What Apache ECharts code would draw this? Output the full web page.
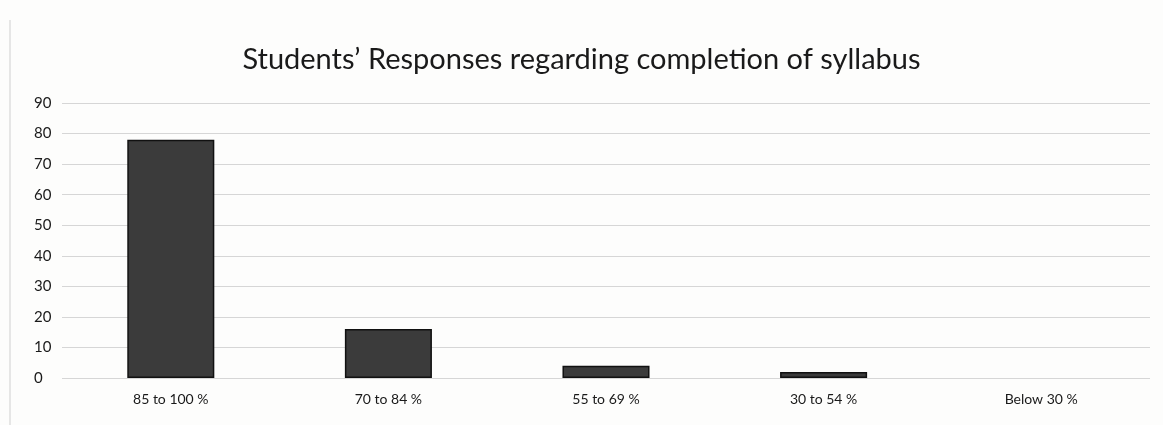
<!DOCTYPE html>
<html><head><meta charset="utf-8">
<script src="https://cdn.jsdelivr.net/npm/echarts@6/dist/echarts.min.js"></script>
<style>html,body{margin:0;padding:0;background:#fff}#c{width:1163px;height:425px}</style>
</head><body><div id="c"></div>
<script>
const categories = ['85 to 100 %', '70 to 84 %', '55 to 69 %', '30 to 54 %', 'Below 30 %'];
const values = [78, 16, 4, 2, 0];
const yTicks = [0, 10, 20, 30, 40, 50, 60, 70, 80, 90];

const chart = echarts.init(document.getElementById('c'));
chart.setOption({
  backgroundColor: '#fdfdfc',
  animation: false,
  title: {
    text: 'Students\u2019 Responses regarding completion of syllabus',
    left: 'center', top: 40,
    textStyle: { fontFamily: 'Lato', fontWeight: 'normal', fontSize: 29, color: '#1a1a1a' }
  },
  graphic: [{ type: 'line', shape: { x1: 10, y1: 20, x2: 10, y2: 425 }, style: { stroke: '#cfcfcf', lineWidth: 1 } }],
  grid: { left: 62, right: 13, top: 103, bottom: 47 },
  xAxis: {
    type: 'category', data: categories,
    axisLine: { show: false }, axisTick: { show: false },
    axisLabel: { fontFamily: 'Lato', fontSize: 14, color: '#1a1a1a', margin: 14 }
  },
  yAxis: {
    type: 'value', min: 0, max: 90, interval: 10,
    axisLine: { show: false }, axisTick: { show: false },
    splitLine: { lineStyle: { color: '#d6d6d6', width: 1 } },
    axisLabel: { fontFamily: 'Lato', fontSize: 15, color: '#1a1a1a', margin: 28, align: 'left',
      formatter: v => yTicks.includes(v) ? String(v) : '' }
  },
  series: [{
    type: 'bar',
    data: values.map(v => ({ value: v, itemStyle: v === 0 ? { borderWidth: 0, opacity: 0 } : {} })),
    barWidth: '40%',
    itemStyle: { color: '#3b3b3b', borderColor: '#111', borderWidth: 1.5 }
  }]
});
</script></body></html>
